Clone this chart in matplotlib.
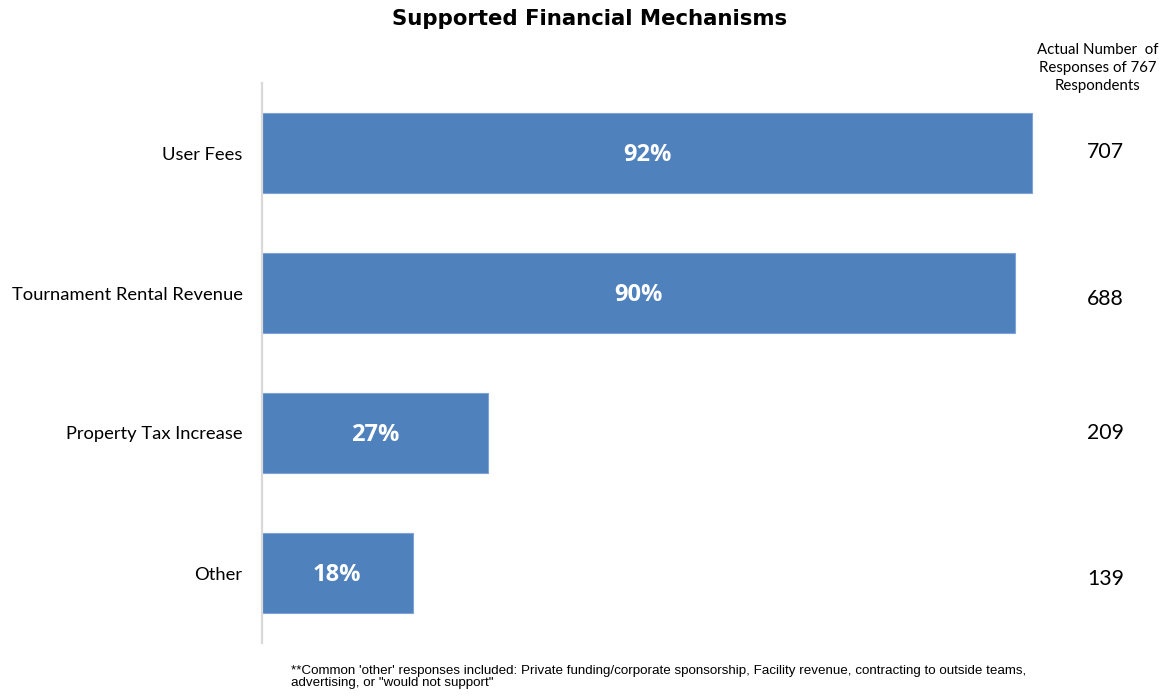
import matplotlib.pyplot as plt
import numpy as np

### Supported financial mechanisms

categories = ['User Fees', 'Tournament Rental Revenue', 'Property Tax Increase', 'Other']
percent = np.array([0.92, 0.90, 0.27, 0.18])
responses = [707, 688, 209, 139]

fig = plt.figure(figsize=(11.66, 6.96), dpi=100)
ax = fig.add_axes([262 / 1166, 53 / 696, 837 / 1166, 560 / 696])

ypos = np.arange(len(categories))
ax.barh(ypos, percent, height=0.571, color='#4f81bd', edgecolor='#7ea3d6', linewidth=0.8)

ax.set_xlim(0, 1)
ax.set_ylim(len(categories) - 0.5, -0.5)
ax.set_yticks(ypos)
ax.set_yticklabels(categories, fontsize=13.2, family=['Lato', 'DejaVu Sans'])
ax.tick_params(axis='y', length=0, pad=14)
ax.set_xticks([])

for s in ['top', 'right', 'bottom']:
    ax.spines[s].set_visible(False)
ax.spines['left'].set_color('#d9d9d9')
ax.spines['left'].set_linewidth(1.6)

# percentage labels inside bars
for y, p in zip(ypos, percent):
    ax.text(p / 2, y + 0.015, '%d%%' % round(p * 100), ha='center', va='center',
            color='white', fontsize=17, fontweight='bold', family=['Open Sans', 'DejaVu Sans'])

# counts on the right (they sit a little off the bar centres in the original)
count_shift = [-0.01, 0.04, 0.0, 0.04]
for y, n, d in zip(ypos, responses, count_shift):
    ax.text(1.008, y + d, str(n), ha='center', va='center', fontsize=15.3,
            family=['Lato', 'DejaVu Sans'], transform=ax.get_yaxis_transform())

fig.text(1098 / 1166, 1 - 68 / 696, 'Actual Number  of\nResponses of 767\nRespondents',
         ha='center', va='center', fontsize=10.8, linespacing=1.35, family=['Lato', 'DejaVu Sans'])

fig.text(590 / 1166, 1 - 19 / 696, 'Supported Financial Mechanisms', ha='center', va='center',
         fontsize=15.3, fontweight='bold')

fig.text(291 / 1166, 1 - 677 / 696,
         "**Common 'other' responses included: Private funding/corporate sponsorship, Facility revenue, contracting to outside teams,\nadvertising, or \"would not support\"",
         ha='left', va='center', fontsize=9.6, linespacing=1.1,
         family=['Liberation Sans Narrow', 'Liberation Sans', 'DejaVu Sans'])

plt.savefig('out.png', dpi=100)
